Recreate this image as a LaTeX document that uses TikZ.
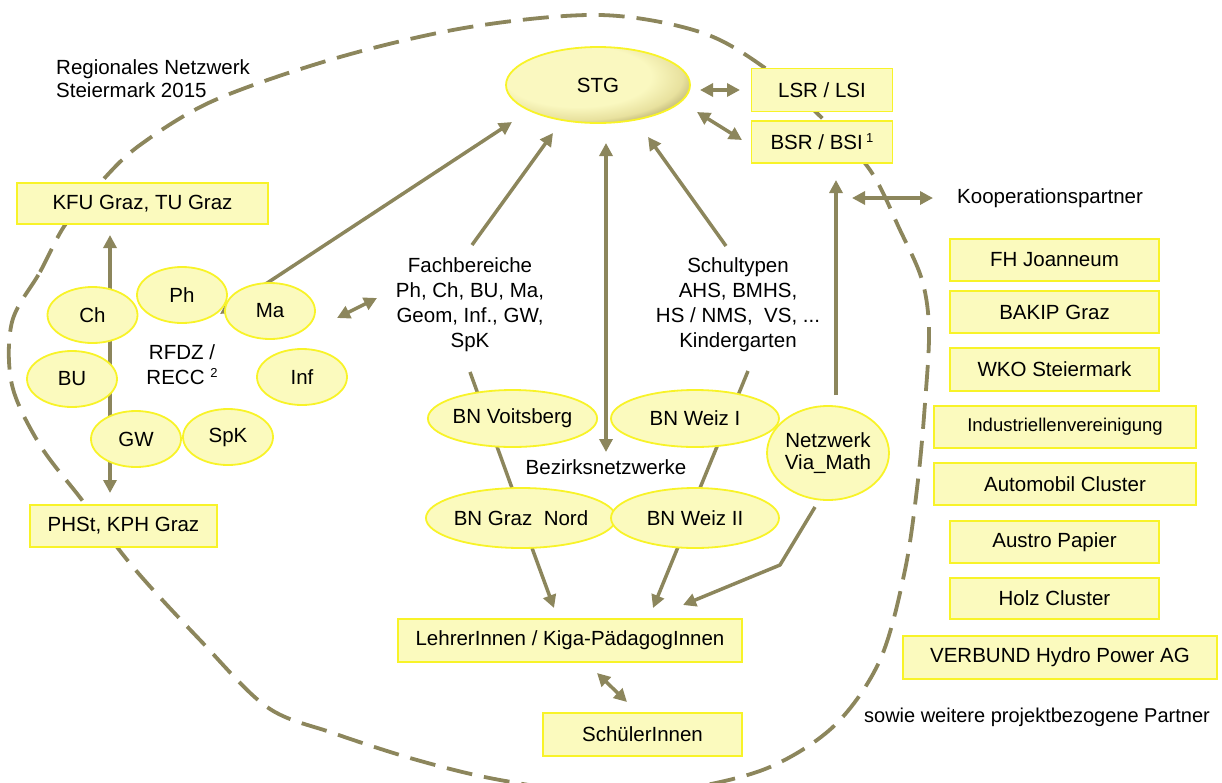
\documentclass[tikz,border=0pt]{standalone}
\usepackage{fontspec}
\setmainfont{Liberation Sans}
\usetikzlibrary{arrows.meta,shapes.geometric,calc}
\definecolor{arrowc}{RGB}{140,134,92}
\definecolor{boxfill}{RGB}{251,250,190}
\definecolor{boxline}{RGB}{248,243,40}
\definecolor{stgl}{RGB}{250,248,192}
\definecolor{stgm}{RGB}{232,225,158}
\definecolor{stgd}{RGB}{165,155,95}
\pgfdeclareradialshading{stgshade}{\pgfpoint{-7bp}{7bp}}{color(0bp)=(stgl); color(20bp)=(stgl); color(28bp)=(stgm); color(35bp)=(stgd); color(100bp)=(stgd)}
\pgfdeclarelayer{bg}
\pgfsetlayers{bg,main}
\tikzset{
  box/.style={draw=boxline, line width=1.8pt, fill=boxfill, inner sep=0pt, align=center},
  ell/.style={ellipse, draw=boxline, line width=1.8pt, fill=boxfill, inner sep=0pt, align=center},
  sm/.style={ell, minimum width=90pt, minimum height=56pt},
  plain/.style={inner sep=0pt, align=center},
  con/.style={draw=arrowc, line width=3.5pt, line join=round},
  onearr/.style={con, -{Triangle[length=13pt,width=13pt]}},
  twoarr/.style={con, {Triangle[length=13pt,width=13pt]}-{Triangle[length=13pt,width=13pt]}},
  bound/.style={draw=arrowc, line width=3.8pt, dash pattern=on 26pt off 12pt}
}
\newcommand{\mysup}[1]{\raisebox{0.65ex}{\fontsize{13}{13}\selectfont #1}}
\begin{document}
\begin{tikzpicture}[x=1pt,y=-1pt,font=\fontsize{20.5}{24}\selectfont]
\path[use as bounding box] (0,0) rectangle (1222,782);

% title
\node[plain, align=left, anchor=west, font=\fontsize{20.5}{23}\selectfont] (title) at (56,78.5) {Regionales Netzwerk\\Steiermark 2015};

% central
\node[ellipse, draw=boxline, line width=1.8pt, shading=stgshade, inner sep=0pt, minimum width=184pt, minimum height=76pt] (STG) at (598,85) {STG};
\node[box, minimum width=141pt, minimum height=43pt] (LSR) at (822,90) {LSR / LSI};
\node[box, minimum width=141pt, minimum height=42pt] (BSR) at (822,142) {BSR / BSI\,\mysup{1}};

% left
\node[box, minimum width=251pt, minimum height=41pt] (KFU) at (142.5,203.5) {KFU Graz, TU Graz};
\node[box, minimum width=187pt, minimum height=42pt] (PHSt) at (123.5,526) {PHSt, KPH Graz};
\node[sm] (Ph) at (182,295) {Ph};
\node[sm] (Ch) at (92.5,315) {Ch};
\node[sm] (Ma) at (270,311) {Ma};
\node[sm] (BU) at (72,379) {BU};
\node[sm] (Inf) at (302,377) {Inf};
\node[sm] (GW) at (136,439) {GW};
\node[sm] (SpK) at (228,437) {SpK};
\node[plain, font=\fontsize{20.5}{25}\selectfont] (RFDZ) at (182,364.5) {RFDZ /\\RECC \mysup{2}};

% middle texts
\node[plain, font=\fontsize{20.5}{25}\selectfont] (Fach) at (470,305) {Fachbereiche\\Ph, Ch, BU, Ma,\\Geom, Inf., GW,\\SpK};
\node[plain, font=\fontsize{20.5}{25}\selectfont] (Schul) at (738,305) {Schultypen\\AHS, BMHS,\\HS / NMS,~~VS, ...\\Kindergarten};

% BN
\node[ell, minimum width=166pt, minimum height=57pt] (BNV) at (512.5,418.5) {BN Voitsberg};
\node[ell, minimum width=168pt, minimum height=57pt] (BNW1) at (695,418.5) {BN Weiz I};
\node[ell, minimum width=163pt, minimum height=60pt] (BNG) at (521,518) {BN Graz~~Nord};
\node[ell, minimum width=168pt, minimum height=60pt] (BNW2) at (695,518) {BN Weiz II};
\node[plain] (Bez) at (606,467) {Bezirksnetzwerke};
\node[ell, minimum width=120pt, minimum height=94pt, font=\fontsize{20.5}{22}\selectfont] (Via) at (828,453) {Netzwerk\\Via\_Math};

% bottom
\node[box, minimum width=344pt, minimum height=43pt] (Lehrer) at (570,640.5) {LehrerInnen / Kiga-PädagogInnen};
\node[box, minimum width=199pt, minimum height=43pt] (Schueler) at (642.5,734.5) {SchülerInnen};

% right
\node[plain, anchor=west] (Koop) at (957,198) {Kooperationspartner};
\node[box, minimum width=209pt, minimum height=42pt] (FH) at (1054.5,260) {FH Joanneum};
\node[box, minimum width=209pt, minimum height=42pt] (BAKIP) at (1054.5,312) {BAKIP Graz};
\node[box, minimum width=209pt, minimum height=43pt] (WKO) at (1054.5,369.5) {WKO Steiermark};
\node[box, minimum width=262pt, minimum height=42pt, font=\fontsize{18.5}{20}\selectfont] (IV) at (1065,427) {Industriellenvereinigung};
\node[box, minimum width=262pt, minimum height=42pt] (Auto) at (1065,484) {Automobil Cluster};
\node[box, minimum width=209pt, minimum height=42pt] (Austro) at (1054.5,542) {Austro Papier};
\node[box, minimum width=209pt, minimum height=41pt] (Holz) at (1054.5,598.5) {Holz Cluster};
\node[box, minimum width=314pt, minimum height=43pt] (Verbund) at (1060,657.5) {VERBUND Hydro Power AG};
\node[plain, font=\fontsize{20}{24}\selectfont] (sowie) at (1037,717) {sowie weitere projektbezogene Partner};

\begin{pgfonlayer}{bg}
% boundary
\draw[bound] plot[smooth cycle, tension=0.55] coordinates {
 (12,322) (40,272) (65,225) (100,183) (140,145) (215,100) (340,57) (470,27)
 (600,15) (700,32) (765,68) (822,118) (870,170) (900,230) (922,280) (929,330)
 (925,403) (918,480) (905,570) (880,660) (835,725) (770,767) (690,788) (610,795)
 (500,780) (417,760) (333,733) (267,707) (200,640) (133,567) (82,500) (40,445) (12,385)};

% connectors
\draw[twoarr] ([shift={(102,5)}]STG.center) -- ([shift={(-82,0)}]LSR.center);
\draw[twoarr] ([shift={(99,27)}]STG.center) -- ([shift={(-80,-2)}]BSR.center);
\draw[twoarr] ([shift={(-50,3)}]Ma.center) -- ([shift={(-86,37)}]STG.center);
\draw[onearr] ([shift={(2,-60)}]Fach.center) -- ([shift={(-45,48)}]STG.center);
\draw[twoarr] ([shift={(67,7)}]Ma.center) -- ([shift={(-93,-7)}]Fach.center);
\draw[twoarr] ([shift={(8,58)}]STG.center) -- ([shift={(0,-15)}]Bez.center);
\draw[onearr] ([shift={(-12,-59)}]Schul.center) -- ([shift={(50,52)}]STG.center);
\draw[con] ([shift={(0,67)}]Fach.center) -- ([shift={(-9,-30)}]BNG.center);
\draw[onearr] ([shift={(11,30)}]BNG.center) -- ([shift={(-16,-32.5)}]Lehrer.center);
\draw[con] ([shift={(10,66)}]Schul.center) -- ([shift={(5,-30)}]BNW2.center);
\draw[onearr] ([shift={(-17,29)}]BNW2.center) -- ([shift={(83,-32.5)}]Lehrer.center);
\coordinate (bend) at (780,565);
\draw[onearr] ([shift={(-13,54)}]Via.center) -- (bend) -- ([shift={(113,-35.5)}]Lehrer.center);
\draw[onearr] ([shift={(8,-58)}]Via.center) -- ([shift={(14,38)}]BSR.center);
\draw[twoarr] ([shift={(-105,0)}]Koop.west) -- ([shift={(-24,0)}]Koop.west);
\draw[twoarr] ([shift={(27,32.5)}]Lehrer.center) -- ([shift={(-15.5,-32.5)}]Schueler.center);
\draw[twoarr] ([shift={(-32.5,31.5)}]KFU.center) -- ([shift={(-13.5,-33)}]PHSt.center);
\end{pgfonlayer}
\end{tikzpicture}
\end{document}
